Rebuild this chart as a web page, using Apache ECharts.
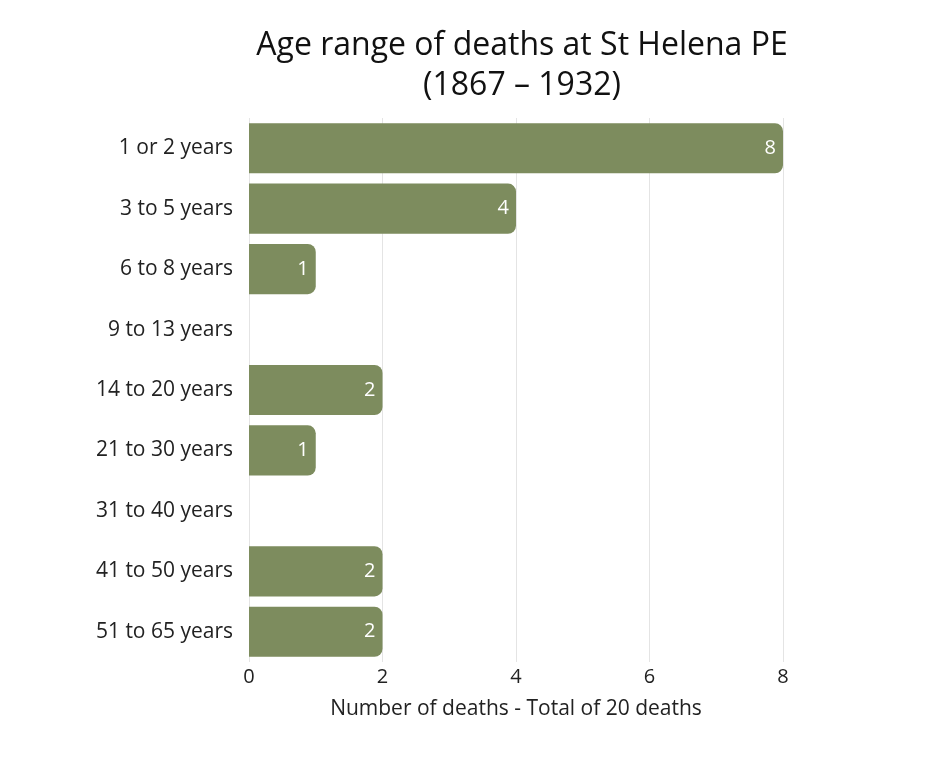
<!DOCTYPE html>
<html lang="en">
<head>
    <meta charset="UTF-8">
    <title>Age range of deaths at St Helena PE</title>
    <script src="https://cdn.jsdelivr.net/npm/echarts@6/dist/echarts.min.js"></script>
    <style>
        html, body { margin: 0; padding: 0; background: #fff; }
        #chart { width: 939px; height: 757px; }
    </style>
</head>
<body>
    <div id="chart"></div>
    <script>
        // 年龄段与死亡人数
        const categories = ['1 or 2 years', '3 to 5 years', '6 to 8 years', '9 to 13 years',
            '14 to 20 years', '21 to 30 years', '31 to 40 years', '41 to 50 years', '51 to 65 years'];
        const deaths = [8, 4, 1, 0, 2, 1, 0, 2, 2];
        const xTicks = [0, 2, 4, 6, 8];

        const font = 'Open Sans, Noto Sans, sans-serif';
        var myChart = echarts.init(document.getElementById('chart'));

        var option = {
            animation: false,
            title: {
                text: 'Age range of deaths at St Helena PE\n(1867 – 1932)',
                left: 517,
                textAlign: 'center',
                top: 21,
                textStyle: {
                    fontFamily: font,
                    fontSize: 32,
                    fontWeight: 'normal',
                    color: '#111',
                    lineHeight: 40
                }
            },
            grid: {
                left: 249,
                right: 156,
                top: 118,
                height: 544
            },
            xAxis: {
                type: 'value',
                min: xTicks[0],
                max: xTicks[xTicks.length - 1],
                interval: 2,
                name: 'Number of deaths - Total of 20 deaths',
                nameLocation: 'middle',
                nameGap: 37,
                nameTextStyle: { fontFamily: font, fontSize: 21, color: '#222' },
                axisLine: { show: false },
                axisTick: { show: false },
                axisLabel: { fontFamily: font, fontSize: 20, color: '#222', margin: 5 },
                splitLine: { lineStyle: { color: '#e4e4e4', width: 1 } }
            },
            yAxis: {
                type: 'category',
                data: categories,
                inverse: true,
                axisLine: { show: false },
                axisTick: { show: false },
                axisLabel: { fontFamily: font, fontSize: 21, color: '#222', margin: 16 }
            },
            series: [
                {
                    type: 'bar',
                    data: deaths,
                    barCategoryGap: '17%',
                    itemStyle: {
                        color: '#7d8c5e',
                        borderRadius: [0, 8, 8, 0]
                    },
                    label: {
                        show: true,
                        position: 'insideRight',
                        distance: 7,
                        color: '#fff',
                        fontFamily: font,
                        fontSize: 20,
                        formatter: function (p) { return p.value > 0 ? p.value : ''; }
                    }
                }
            ]
        };

        myChart.setOption(option);
    </script>
</body>
</html>
